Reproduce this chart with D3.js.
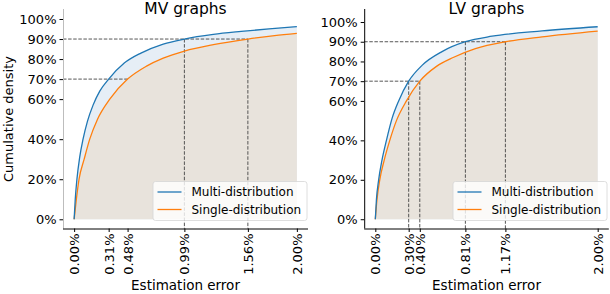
<!DOCTYPE html>
<html>
<head>
<meta charset="utf-8">
<script src="https://cdn.jsdelivr.net/npm/d3@7"></script>
<style>
  html, body { margin: 0; padding: 0; background: #ffffff; }
  svg { display: block; font-family: "DejaVu Sans", sans-serif; }
</style>
</head>
<body>
<svg></svg>
<script>
const width = 610;
const height = 294;

// error (%) / cumulative share pairs
const mvMulti = [[0, 0], [0.01, 0.1], [0.025, 0.2], [0.05, 0.31], [0.08, 0.4], [0.12, 0.49], [0.17, 0.57],
    [0.23, 0.64], [0.31, 0.7], [0.45, 0.78], [0.6, 0.83], [0.8, 0.875], [0.99, 0.9], [1.25, 0.923], [1.5, 0.938], [1.75, 0.951], [2.0, 0.962]];
const mvSingle = [[0, 0], [0.02, 0.1], [0.044, 0.2], [0.09, 0.3], [0.14, 0.4], [0.21, 0.5], [0.32, 0.6],
    [0.48, 0.7], [0.65, 0.765], [0.8, 0.805], [0.99, 0.84], [1.25, 0.872], [1.56, 0.9], [1.8, 0.917], [2.0, 0.928]];
const lvMulti = [[0, 0], [0.01, 0.1], [0.03, 0.2], [0.06, 0.3], [0.1, 0.4], [0.15, 0.51], [0.21, 0.6],
    [0.30, 0.7], [0.42, 0.78], [0.6, 0.85], [0.81, 0.9], [1.05, 0.928], [1.5, 0.955], [2.0, 0.976]];
const lvSingle = [[0, 0], [0.015, 0.1], [0.04, 0.2], [0.08, 0.3], [0.13, 0.4], [0.19, 0.5], [0.28, 0.6],
    [0.40, 0.7], [0.55, 0.775], [0.7, 0.82], [0.9, 0.865], [1.17, 0.9], [1.5, 0.925], [2.0, 0.954]];

const mvXTicks = [0, 0.31, 0.48, 0.99, 1.56, 2.0];
const lvXTicks = [0, 0.30, 0.40, 0.81, 1.17, 2.0];
const yTicks = [0, 0.2, 0.4, 0.6, 0.7, 0.8, 0.9, 1.0];

// [level, x where the dashed line stops]
const mvHLines = [[0.9, 1.56], [0.7, 0.48]];
const lvHLines = [[0.9, 1.17], [0.7, 0.40]];
// [x, level the dashed line drops from]
const mvVLines = [[0.99, 0.9], [1.56, 0.9]];
const lvVLines = [[0.30, 0.7], [0.40, 0.7], [0.81, 0.9], [1.17, 0.9]];

const seriesNames = ["Multi-distribution", "Single-distribution"];
const blue = "#1f77b4";
const orange = "#ff7f0e";
const tickFont = 13;

const svg = d3.select("svg")
    .attr("width", width)
    .attr("height", height)
    .attr("viewBox", [0, 0, width, height]);

function drawPanel(p) {
    const x = d3.scaleLinear().domain([-0.1, 2.1]).range([p.left, p.right]);
    const y = d3.scaleLinear().domain(p.yDomain).range([p.bottom, p.top]);
    const g = svg.append("g");

    const area = d3.area()
        .x(d => x(d[0]))
        .y0(y(0))
        .y1(d => y(d[1]))
        .curve(d3.curveMonotoneX);
    const line = d3.line()
        .x(d => x(d[0]))
        .y(d => y(d[1]))
        .curve(d3.curveMonotoneX);

    g.append("path").attr("d", area(p.multi)).attr("fill", "#e6eef6");
    g.append("path").attr("d", area(p.single)).attr("fill", "#e8e3dc");

    // guide lines
    const dash = "3.5,1.6";
    g.selectAll("line.h")
        .data(p.hLines)
        .join("line")
        .attr("x1", p.left)
        .attr("x2", d => x(d[1]))
        .attr("y1", d => y(d[0]))
        .attr("y2", d => y(d[0]))
        .attr("stroke", "#444")
        .attr("stroke-width", 0.9)
        .attr("stroke-dasharray", dash);
    g.selectAll("line.v")
        .data(p.vLines)
        .join("line")
        .attr("x1", d => x(d[0]))
        .attr("x2", d => x(d[0]))
        .attr("y1", d => y(d[1]))
        .attr("y2", p.bottom)
        .attr("stroke", "#444")
        .attr("stroke-width", 0.9)
        .attr("stroke-dasharray", dash);

    g.append("path").attr("d", line(p.single)).attr("fill", "none")
        .attr("stroke", orange).attr("stroke-width", 1.3);
    g.append("path").attr("d", line(p.multi)).attr("fill", "none")
        .attr("stroke", blue).attr("stroke-width", 1.3);

    // axes
    const yAxis = g.append("g")
        .attr("transform", `translate(${p.left},0)`)
        .call(d3.axisLeft(y).tickValues(yTicks).tickFormat(d3.format(".0%")).tickSize(3.5).tickPadding(3));
    yAxis.select(".domain").attr("stroke", p.leftSpine).attr("d", `M0.5,${p.top}V${p.bottom}`);
    yAxis.selectAll("text").attr("font-size", tickFont).attr("font-family", "DejaVu Sans").attr("fill", "#000");

    const xAxis = g.append("g")
        .attr("transform", `translate(0,${p.bottom})`)
        .call(d3.axisBottom(x).tickValues(p.xTicks).tickFormat(d => d.toFixed(2) + "%").tickSize(3.5).tickPadding(3));
    xAxis.select(".domain").attr("d", `M${p.left},0.5H${p.right}`);
    xAxis.selectAll("text")
        .attr("font-size", tickFont)
        .attr("font-family", "DejaVu Sans")
        .attr("fill", "#000")
        .attr("transform", "rotate(-90)")
        .attr("text-anchor", "end")
        .attr("x", -5)
        .attr("y", 0)
        .attr("dy", "0.35em");

    g.append("text")
        .attr("x", x(1))
        .attr("y", 14)
        .attr("text-anchor", "middle")
        .attr("font-size", 15.5)
        .text(p.title);
    g.append("text")
        .attr("x", x(1))
        .attr("y", 290)
        .attr("text-anchor", "middle")
        .attr("font-size", 13.5)
        .text("Estimation error");

    // legend
    const lg = g.append("g").attr("transform", `translate(${p.legendX},181)`);
    lg.append("rect")
        .attr("x", 0.5).attr("y", 0.5)
        .attr("width", 154).attr("height", 39)
        .attr("rx", 2.5)
        .attr("fill", "#ffffff").attr("fill-opacity", 0.8)
        .attr("stroke", "#d6d6d6").attr("stroke-width", 0.8);
    lg.selectAll("g.item")
        .data(seriesNames)
        .join("g")
        .attr("transform", (d, i) => `translate(0,${11 + i * 17.5})`)
        .each(function (d, i) {
            const item = d3.select(this);
            item.append("line")
                .attr("x1", 5).attr("x2", 29)
                .attr("stroke", i === 0 ? blue : orange)
                .attr("stroke-width", 1.3);
            item.append("text")
                .attr("x", 39)
                .attr("dy", "0.35em")
                .attr("font-size", 12)
                .text(d);
        });
}

drawPanel({
    title: "MV graphs",
    left: 63, right: 308, top: 9, bottom: 228.5,
    yDomain: [-0.046, 1.05],
    multi: mvMulti, single: mvSingle,
    xTicks: mvXTicks, hLines: mvHLines, vLines: mvVLines,
    leftSpine: "#bdbdbd",
    legendX: 152.5
});

drawPanel({
    title: "LV graphs",
    left: 364.2, right: 608.8, top: 9, bottom: 228.5,
    yDomain: [-0.047, 1.066],
    multi: lvMulti, single: lvSingle,
    xTicks: lvXTicks, hLines: lvHLines, vLines: lvVLines,
    leftSpine: "#000",
    legendX: 452.5
});

svg.append("text")
    .attr("transform", "translate(12.5,119) rotate(-90)")
    .attr("text-anchor", "middle")
    .attr("font-size", 13)
    .text("Cumulative density");
</script>
</body>
</html>
